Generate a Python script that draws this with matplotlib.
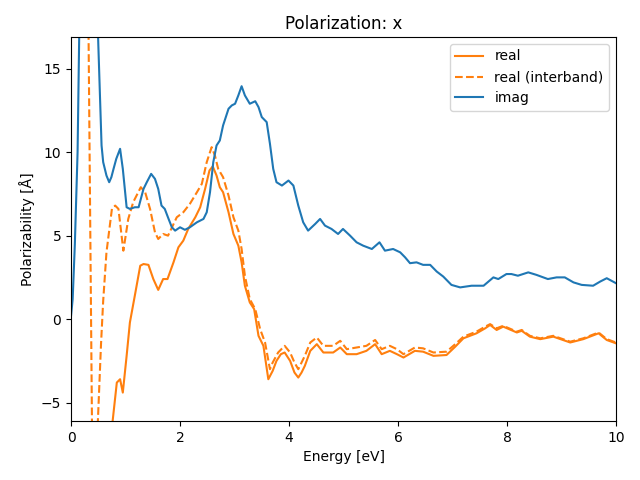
import numpy as np
import matplotlib
matplotlib.use('Agg')
import matplotlib.pyplot as plt

# imaginary part
e_imag = [0.0, 0.03, 0.07, 0.12, 0.15, 0.25, 0.35, 0.45, 0.5, 0.56,
          0.59, 0.65, 0.70, 0.74, 0.78, 0.83, 0.90, 0.95, 1.02, 1.08,
          1.17, 1.24, 1.33, 1.39, 1.47, 1.54, 1.60, 1.66, 1.72, 1.79,
          1.85, 1.91, 2.0, 2.09, 2.18, 2.31, 2.43, 2.49, 2.55, 2.61,
          2.67, 2.73, 2.79, 2.89, 2.95, 3.01, 3.07, 3.13, 3.19, 3.28,
          3.38, 3.44, 3.50, 3.59, 3.65, 3.71, 3.77, 3.87, 3.99, 4.08,
          4.17, 4.26, 4.35, 4.48, 4.57, 4.66, 4.78, 4.90, 4.99, 5.12,
          5.24, 5.36, 5.52, 5.66, 5.76, 5.91, 6.04, 6.13, 6.22, 6.34,
          6.46, 6.59, 6.71, 6.83, 6.98, 7.14, 7.35, 7.57, 7.66, 7.75,
          7.84, 7.99, 8.08, 8.2, 8.39, 8.54, 8.75, 8.91, 9.06, 9.22,
          9.37, 9.58, 9.71, 9.83, 10.0]
imag = [0.2, 1.2, 4.5, 10, 17, 35, 30, 22, 16.5, 10.4,
        9.4, 8.6, 8.2, 8.5, 9.0, 9.6, 10.2, 9.0, 6.7, 6.6,
        6.7, 6.7, 7.8, 8.2, 8.7, 8.4, 7.8, 6.8, 6.6, 6.0,
        5.5, 5.3, 5.5, 5.35, 5.5, 5.8, 6.0, 6.4, 7.6, 9.4,
        10.4, 10.7, 11.6, 12.6, 12.8, 12.9, 13.4, 13.95, 13.4, 12.9,
        13.05, 12.7, 12.1, 11.8, 10.5, 9.0, 8.2, 8.0, 8.3, 8.0,
        6.8, 5.8, 5.3, 5.7, 6.0, 5.6, 5.4, 5.1, 5.4, 5.0,
        4.6, 4.4, 4.2, 4.6, 4.1, 4.2, 4.0, 3.7, 3.35, 3.4,
        3.25, 3.25, 2.85, 2.55, 2.05, 1.9, 2.0, 2.0, 2.25, 2.5,
        2.4, 2.7, 2.7, 2.6, 2.8, 2.65, 2.4, 2.5, 2.5, 2.2,
        2.05, 2.0, 2.25, 2.45, 2.15]

# real part (total)
e_real = [0.02, 0.1, 0.2, 0.3, 0.4, 0.5, 0.6, 0.7, 0.76, 0.84,
          0.90, 0.95, 1.02, 1.08, 1.17, 1.27, 1.33, 1.42, 1.51, 1.60,
          1.69, 1.77, 1.88, 1.97, 2.06, 2.15, 2.28, 2.37, 2.46, 2.54,
          2.60, 2.67, 2.73, 2.79, 2.89, 2.98, 3.07, 3.13, 3.19, 3.28,
          3.36, 3.44, 3.53, 3.62, 3.70, 3.77, 3.85, 3.92, 4.02, 4.10,
          4.17, 4.23, 4.29, 4.39, 4.51, 4.63, 4.81, 4.94, 5.06, 5.24,
          5.42, 5.58, 5.70, 5.85, 5.98, 6.10, 6.31, 6.46, 6.65, 6.89,
          7.05, 7.20, 7.44, 7.60, 7.69, 7.81, 7.93, 8.18, 8.27, 8.42,
          8.61, 8.85, 9.16, 9.40, 9.68, 9.83, 10.0]
real = [-300, -90, -50, -35, -24, -17, -12, -8.5, -6.2, -3.8,
        -3.6, -4.4, -2.2, -0.2, 1.4, 3.2, 3.3, 3.25, 2.4, 1.75,
        2.4, 2.4, 3.4, 4.3, 4.7, 5.4, 6.1, 6.7, 7.8, 8.9,
        9.15, 8.6, 7.9, 7.6, 6.4, 5.1, 4.4, 3.4, 2.0, 1.0,
        0.6, -1.0, -1.6, -3.6, -3.1, -2.5, -2.1, -2.0, -2.5, -3.2,
        -3.5, -3.2, -2.8, -1.9, -1.5, -2.0, -2.0, -1.7, -2.1, -2.1,
        -1.9, -1.5, -2.1, -1.9, -2.1, -2.3, -1.9, -1.95, -2.2, -2.15,
        -1.65, -1.15, -0.85, -0.55, -0.35, -0.65, -0.45, -0.8, -0.7, -1.05,
        -1.2, -1.05, -1.4, -1.2, -0.85, -1.25, -1.45]

# real part (interband only)
e_inter = [0.0, 0.1, 0.2, 0.28, 0.32, 0.385, 0.43, 0.49, 0.55, 0.59,
           0.65, 0.75, 0.81, 0.87, 0.96, 1.05, 1.14, 1.28, 1.36, 1.45,
           1.54, 1.60, 1.69, 1.78, 1.94, 2.06, 2.18, 2.31, 2.40, 2.49,
           2.58, 2.64, 2.70, 2.79, 2.89, 2.98, 3.07, 3.13, 3.19, 3.28,
           3.38, 3.47, 3.56, 3.65, 3.70, 3.80, 3.92, 4.02, 4.10, 4.17,
           4.29, 4.39, 4.51, 4.63, 4.81, 4.94, 5.06, 5.24, 5.42, 5.58,
           5.70, 5.85, 5.98, 6.10, 6.31, 6.46, 6.65, 6.89, 7.05, 7.20,
           7.44, 7.60, 7.69, 7.81, 7.93, 8.18, 8.27, 8.42, 8.61, 8.85,
           9.16, 9.40, 9.68, 9.83, 10.0]
inter = [22, 24, 30, 45, 17.5, -6.5, -10, -6.3, -1.5, 1.1,
         4.0, 6.6, 6.8, 6.6, 4.1, 6.0, 7.0, 7.9, 7.6, 6.6,
         5.2, 4.8, 5.1, 5.0, 6.1, 6.4, 6.9, 7.6, 8.1, 9.4,
         10.3, 9.8, 9.0, 8.5, 7.4, 6.1, 5.3, 4.2, 2.6, 1.2,
         0.6, -0.6, -1.4, -3.0, -2.6, -2.0, -1.6, -2.0, -2.6, -3.0,
         -2.2, -1.4, -1.1, -1.6, -1.6, -1.3, -1.8, -1.7, -1.6, -1.25,
         -1.8, -1.6, -1.8, -2.1, -1.7, -1.75, -2.0, -1.95, -1.5, -1.05,
         -0.75, -0.45, -0.3, -0.55, -0.4, -0.75, -0.65, -1.0, -1.15, -1.0,
         -1.35, -1.15, -0.8, -1.2, -1.4]

fig, ax = plt.subplots(figsize=(6.4, 4.8), dpi=100)
ax.plot(e_real, real, color='C1', label='real')
ax.plot(e_inter, inter, color='C1', linestyle='--', label='real (interband)')
ax.plot(e_imag, imag, color='C0', label='imag')
ax.set_xlim(0, 10)
ax.set_ylim(-6.1, 16.9)
ax.set_xlabel('Energy [eV]')
ax.set_ylabel('Polarizability [Å]')
ax.set_title('Polarization: x')
ax.legend(loc='upper right')
plt.subplots_adjust(left=0.111, right=0.9625, top=0.923, bottom=0.123)
plt.savefig('out.png', dpi=100)
